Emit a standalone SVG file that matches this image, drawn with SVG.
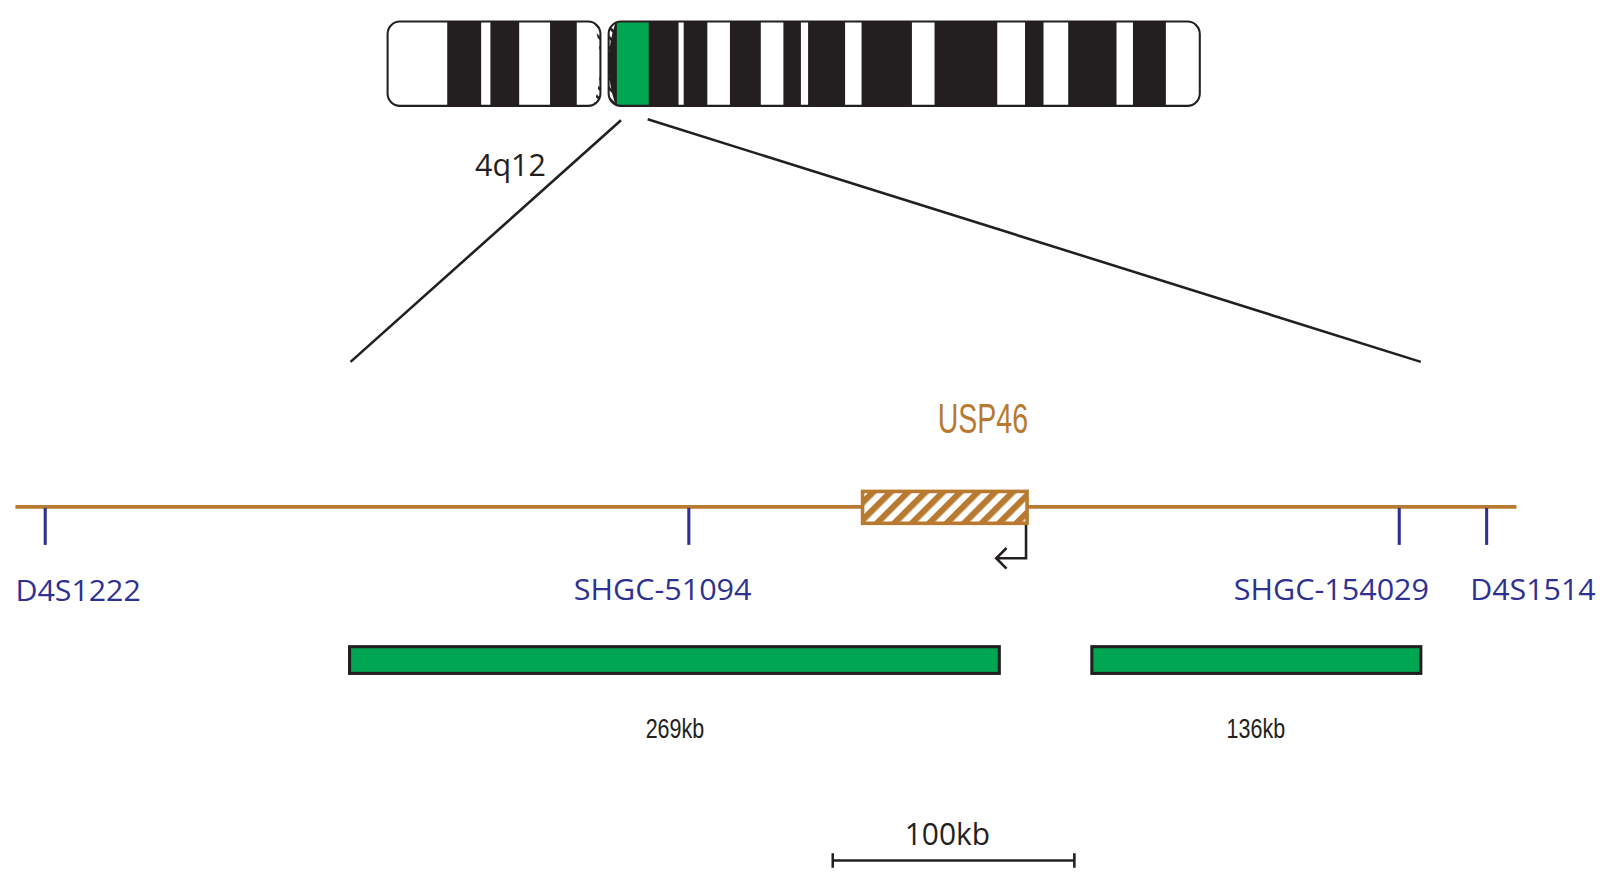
<svg xmlns="http://www.w3.org/2000/svg" width="1609" height="890" viewBox="0 0 1609 890">
<defs>
<pattern id="hb" width="12" height="12" patternUnits="userSpaceOnUse" patternTransform="rotate(45)"><rect width="12" height="12" fill="#fff"/><rect width="6" height="12" fill="#b87a30"/></pattern>
<pattern id="hk" width="7" height="7" patternUnits="userSpaceOnUse" patternTransform="rotate(-45)"><rect width="7" height="7" fill="#fff"/><rect width="2.5" height="7" fill="#231f20"/></pattern>
<clipPath id="cl"><rect x="377" y="21" width="207" height="82" rx="12"/></clipPath>
<clipPath id="cr"><rect x="592" y="21" width="575" height="82" rx="12"/></clipPath>
</defs>
<style>
.bk{fill:#231f20}
.mk{font-family:"Open Sans","Liberation Sans",sans-serif;font-size:29px;fill:#2e3192}
.tk{stroke:#2e3192;stroke-width:3}
.kb{font-family:"Liberation Sans",sans-serif;font-size:26px;fill:#231f20}
.ln{stroke:#231f20;stroke-width:2.5;fill:none}
</style>
<g transform="scale(1.0281)">
<g id="chromosome">
<g clip-path="url(#cl)">
<rect x="377" y="21" width="207" height="82" fill="#fff"/>
<rect class="bk" x="435" y="21" width="33" height="82"/>
<rect class="bk" x="477" y="21" width="28" height="82"/>
<rect class="bk" x="535" y="21" width="26" height="82"/>
<path d="M576,18 L600,18 L600,106 L576,106 Q592,62 576,18Z" fill="url(#hk)"/>
</g>
<rect x="377" y="21" width="207" height="82" rx="12" fill="none" stroke="#231f20" stroke-width="2"/>
<g clip-path="url(#cr)">
<rect x="592" y="21" width="575" height="82" fill="#231f20"/>
<path d="M592,18 L600,18 Q584,62 600,106 L592,106Z" fill="url(#hk)"/>
<rect x="600" y="21" width="31" height="82" fill="#00a651"/>
<rect x="660" y="21" width="5" height="82" fill="#fff"/>
<rect x="688" y="21" width="22" height="82" fill="#fff"/>
<rect x="740" y="21" width="22" height="82" fill="#fff"/>
<rect x="779" y="21" width="7" height="82" fill="#fff"/>
<rect x="822" y="21" width="16" height="82" fill="#fff"/>
<rect x="887" y="21" width="22" height="82" fill="#fff"/>
<rect x="970" y="21" width="27" height="82" fill="#fff"/>
<rect x="1015" y="21" width="24" height="82" fill="#fff"/>
<rect x="1086" y="21" width="16" height="82" fill="#fff"/>
<rect x="1134" y="21" width="40" height="82" fill="#fff"/>
</g>
<rect x="592" y="21" width="575" height="82" rx="12" fill="none" stroke="#231f20" stroke-width="2"/>
</g>
<g id="connectors">
<line class="ln" x1="604" y1="117" x2="341" y2="352"/>
<line class="ln" x1="630" y1="116" x2="1382" y2="352"/>
<line x1="15" y1="493" x2="1475" y2="493" stroke="#b87a30" stroke-width="3.5"/>
<line class="tk" x1="44" y1="494" x2="44" y2="530"/>
<line class="tk" x1="670" y1="494" x2="670" y2="530"/>
<line class="tk" x1="1361" y1="494" x2="1361" y2="530"/>
<line class="tk" x1="1446" y1="494" x2="1446" y2="530"/>
<path d="M998,510 L998,543 L969,543 M979,533 L969,543 L979,553" class="ln" stroke-width="3"/>
<path d="M810,844 L810,830 M810,837 L1045,837 M1045,830 L1045,844" class="ln" stroke-width="3"/>
</g>
<text x="462" y="171" font-family="Open Sans,Liberation Sans,sans-serif" font-size="29.5" fill="#231f20" textLength="69" lengthAdjust="spacingAndGlyphs">4q12</text>
<g id="usp46">
<rect x="839" y="478" width="160" height="31" fill="url(#hb)" stroke="#b87a30" stroke-width="3.5"/>
<text x="912" y="421" font-family="Liberation Sans,sans-serif" font-size="42" fill="#b87a30" textLength="88" lengthAdjust="spacingAndGlyphs">USP46</text>
</g>
<g id="markers">
<text class="mk" x="15" y="585" textLength="122" lengthAdjust="spacingAndGlyphs">D4S1222</text>
<text class="mk" x="558" y="584" textLength="173" lengthAdjust="spacingAndGlyphs">SHGC-51094</text>
<text class="mk" x="1200" y="584" textLength="190" lengthAdjust="spacingAndGlyphs">SHGC-154029</text>
<text class="mk" x="1430" y="584" textLength="122" lengthAdjust="spacingAndGlyphs">D4S1514</text>
</g>
<g id="bar269"><rect x="340" y="629" width="632" height="26" fill="#00a651" stroke="#231f20" stroke-width="3"/><text class="kb" x="628" y="718" textLength="57" lengthAdjust="spacingAndGlyphs">269kb</text></g>
<g id="bar136"><rect x="1062" y="629" width="320" height="26" fill="#00a651" stroke="#231f20" stroke-width="3"/><text class="kb" x="1193" y="718" textLength="57" lengthAdjust="spacingAndGlyphs">136kb</text></g>
<text x="880" y="822" font-family="Open Sans,Liberation Sans,sans-serif" font-size="29.5" fill="#231f20" textLength="83" lengthAdjust="spacingAndGlyphs">100kb</text>
</g>
</svg>
